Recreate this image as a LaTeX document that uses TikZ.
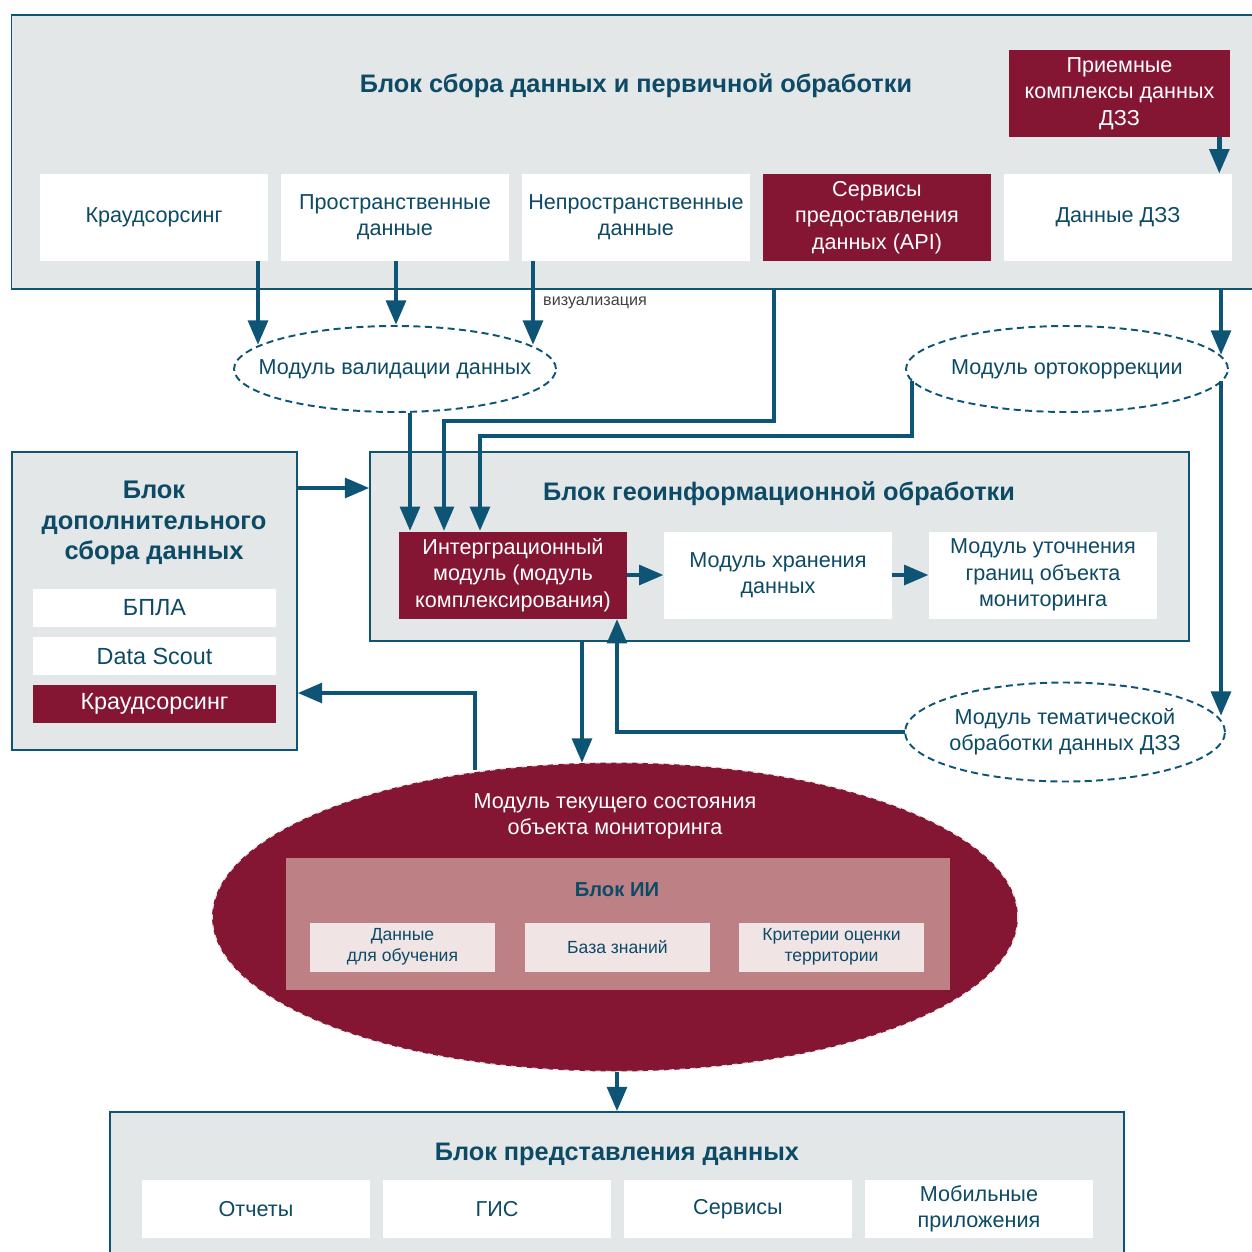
\documentclass[tikz,border=0pt]{standalone}
\usepackage{fontspec}
\setmainfont{Liberation Sans}
\usetikzlibrary{arrows.meta}
\usetikzlibrary{shapes.geometric}

\definecolor{fon}{HTML}{E3E7E8}
\definecolor{bordo}{HTML}{841634}
\definecolor{morsk}{HTML}{0E5475}
\definecolor{tekst}{HTML}{0D4A66}
\definecolor{rozov}{HTML}{BD8185}
\definecolor{svetl}{HTML}{F1E4E5}

\tikzset{
  blok/.style={draw=morsk, fill=fon, line width=0.7pt, inner sep=0pt},
  yach/.style={fill=white, text=tekst, align=center, inner sep=0pt,
    minimum width=4.56cm, minimum height=1.74cm,
    font=\fontsize{12.3}{15}\selectfont},
  krasn/.style={yach, fill=bordo, text=white},
  malaya/.style={yach, minimum width=4.86cm, minimum height=0.76cm, font=\fontsize{13.3}{15}\selectfont},
  zagl/.style={text=tekst, align=center, font=\bfseries\fontsize{14.4}{16.8}\selectfont},
  modul/.style={ellipse, draw=morsk, line width=1.1pt, dash pattern=on 4pt off 2.5pt, inner sep=0pt},
  modtxt/.style={text=tekst, align=center, font=\fontsize{12.3}{15}\selectfont},
  strel/.style={-{Triangle[length=14pt,width=11pt]}, line width=2.8pt, draw=morsk},
}

\begin{document}
\begin{tikzpicture}[x=0.02cm,y=-0.02cm]
\useasboundingbox (0,0) rectangle (1252,1252);

% блок сбора данных
\node[blok, minimum width=25.4cm, minimum height=5.48cm] (sbor) at (646,152) {};
\node[zagl] (sborT) at (636,86) {Блок сбора данных и первичной обработки};
\node[krasn, minimum width=4.42cm] (priem) at (1119.5,93.5) {Приемные\\комплексы данных\\ДЗЗ};
\node[yach] (kraud) at (154,217.5) {Краудсорсинг};
\node[yach] (prostr) at (395,217.5) {Пространственные\\данные};
\node[yach] (neprostr) at (636,217.5) {Непространственные\\данные};
\node[krasn] (api) at (877,217.5) {Сервисы\\предоставления\\данных (API)};
\node[yach] (dzz) at (1118,217.5) {Данные ДЗЗ};

% модули
\node[modul, minimum width=6.44cm, minimum height=1.72cm] (val) at (395,369) {};
\node[modtxt] (valT) at (val) {Модуль валидации данных};
\node[modul, minimum width=6.44cm, minimum height=1.72cm] (orto) at (1067,369) {};
\node[modtxt] (ortoT) at (orto) {Модуль ортокоррекции};
\node[modul, minimum width=6.4cm, minimum height=1.98cm] (tema) at (1065,732) {};
\node[modtxt] (temaT) at (tema) {Модуль тематической\\обработки данных ДЗЗ};

% блок геоинформационной обработки
\node[blok, minimum width=16.38cm, minimum height=3.78cm] (geo) at (779.5,546.5) {};
\node[zagl] (geoT) at (779,494) {Блок геоинформационной обработки};
\node[krasn] (integ) at (513,575) {Интерграционный\\модуль (модуль\\комплексирования)};
\node[yach] (hran) at (778,575) {Модуль хранения\\данных};
\node[yach] (utoch) at (1043,575) {Модуль уточнения\\границ объекта\\мониторинга};

% блок дополнительного сбора
\node[blok, minimum width=5.7cm, minimum height=5.96cm] (dop) at (154.5,601) {};
\node[zagl, font=\bfseries\fontsize{14.5}{17.4}\selectfont] (dopT) at (154,523) {Блок\\дополнительного\\сбора данных};
\node[malaya] (bpla) at (154.5,608) {БПЛА};
\node[malaya] (scout) at (154.5,656) {Data Scout};
\node[malaya, fill=bordo, text=white] (kraud2) at (154.5,704) {Краудсорсинг};

% модуль текущего состояния
\node[ellipse, fill=bordo, draw=fon, line width=0.8pt, dashed, minimum width=16.12cm, minimum height=6.18cm] (tek) at (615,917) {};
\node[text=white, align=center, font=\fontsize{12.3}{15}\selectfont] (tekT) at (615,816) {Модуль текущего состояния\\объекта мониторинга};
\node[fill=rozov, minimum width=13.28cm, minimum height=2.64cm, inner sep=0pt] (ii) at (618,924) {};
\node[zagl, font=\bfseries\fontsize{11.5}{14}\selectfont] (iiT) at (617,890) {Блок ИИ};
\foreach \nm/\x/\txt in {obuch/402.5/{Данные\\для обучения}, baza/617.5/{База знаний}, krit/831.5/{Критерии оценки\\территории}}
  \node[fill=svetl, text=tekst, align=center, inner sep=0pt, minimum width=3.7cm, minimum height=0.98cm,
    font=\fontsize{10}{11.8}\selectfont] (\nm) at (\x,947) {\txt};

% блок представления данных
\node[blok, minimum width=20.28cm, minimum height=3.2cm] (pred) at (617,1192) {};
\node[zagl] (predT) at (617,1154) {Блок представления данных};
\node[yach, minimum height=1.16cm] (otch) at (256,1209) {Отчеты};
\node[yach, minimum height=1.16cm] (gis) at (497,1209) {ГИС};
\node[yach, minimum height=1.16cm] (serv) at (738,1209) {Сервисы};
\node[yach, minimum height=1.16cm] (mob) at (979,1209) {Мобильные\\приложения};

% точки на границах модулей
\coordinate (v1) at (258,345);
\coordinate (v2) at (396,325);
\coordinate (v3) at (533,345);
\coordinate (o1) at (1221,355);
\coordinate (o2) at (1221,381);
\coordinate (o3) at (912,381);
\coordinate (t1) at (1221,716);
\coordinate (t2) at (905,732);
\coordinate (k1) at (475,770);
\coordinate (k2) at (582,763);

% стрелки
\draw[strel] ([xshift=-0.22cm]priem.south east) -- ([xshift=-0.22cm]priem.south east |- dzz.north);
\draw[strel] (kraud.south -| v1) -- (v1);
\draw[strel] (prostr.south -| v2) -- (v2);
\draw[strel] (neprostr.south -| v3) -- (v3);
\node[anchor=west, text=black!75, font=\fontsize{9.2}{10}\selectfont] (vizual) at (537,303) {визуализация};
\draw[strel] (sbor.south -| o1) -- (o1);
\draw[strel] (o2) -- (t1);
\draw[strel] (val.south -| 410,0) -- (integ.north -| 410,0);
\draw[strel] (sbor.south -| 774,0) -- (774,421) -- (444,421) -- (integ.north -| 444,0);
\draw[strel] (o3) -- (912,436) -- (480,436) -- (integ.north -| 480,0);
\draw[strel] (integ) -- (hran);
\draw[strel] (hran) -- (utoch);
\draw[strel] (dop.east |- 0,488) -- (geo.west |- 0,488);
\draw[strel] (k1) -- (475,693) -- (dop.east |- 0,693);
\draw[strel] (geo.south -| k2) -- (k2);
\draw[strel] (t2) -- (617,732) -- (integ.south -| 617,0);
\draw[strel] (tek.south -| 617,0) -- (pred.north -| 617,0);

\end{tikzpicture}
\end{document}
